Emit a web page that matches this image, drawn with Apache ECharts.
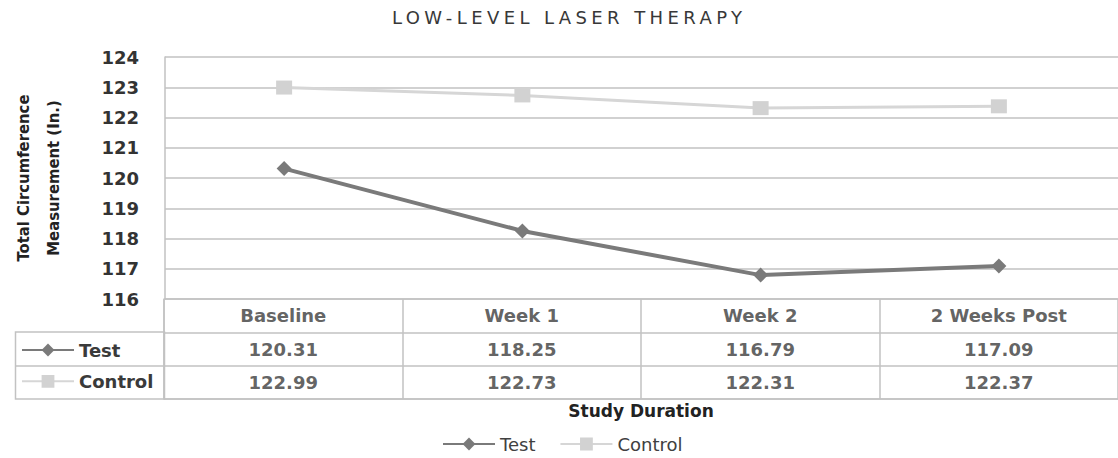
<!DOCTYPE html>
<html><head><meta charset="utf-8">
<script src="https://cdn.jsdelivr.net/npm/echarts@6/dist/echarts.min.js"></script>
<style>
html,body{margin:0;padding:0;background:#fff;}
#c{width:1118px;height:458px;}
#c text[style*="Verdana"]{letter-spacing:4.4px !important;}
</style></head><body><div id="c"></div>
<script>
// ---- data ----
const categories = ['Baseline', 'Week 1', 'Week 2', '2 Weeks Post'];
const testValues = [120.31, 118.25, 116.79, 117.09];
const controlValues = [122.99, 122.73, 122.31, 122.37];
const seriesNames = ['Test', 'Control'];
const tableRowKeys = ['header', 'Test', 'Control'];
const yMin = 116, yMax = 124, yStep = 1;
const titleText = 'LOW-LEVEL LASER THERAPY';
const yName = 'Total Circumference\nMeasurement (In.)';
const xName = 'Study Duration';

// ---- layout ----
const PLOT_LEFT = 164, PLOT_TOP = 57, PLOT_BOTTOM = 299, PLOT_W = 962;
const TABLE_TOP = 299, TABLE_H = 100, KEY_LEFT = 15;
const ROW_H = TABLE_H / 3;
const GRID_COLOR = '#c2c2c2';
const TEXT = '#3a3a3a';

const tableCells = [];
categories.forEach((c, i) => tableCells.push([i, 0, c]));
testValues.forEach((v, i) => tableCells.push([i, 1, v.toFixed(2)]));
controlValues.forEach((v, i) => tableCells.push([i, 2, v.toFixed(2)]));

const chart = echarts.init(document.getElementById('c'), null, {renderer: 'svg'});
chart.setOption({
  animation: false,
  backgroundColor: '#fff',
  title: {
    text: titleText, left: 392, top: 8, padding: 0,
    textStyle: {fontFamily: 'Verdana, "DejaVu Sans"', fontSize: 18, fontWeight: 'normal', color: '#383838'}
  },
  legend: [{
    data: seriesNames, left: 437, top: 430, itemWidth: 52, itemHeight: 16, itemGap: 24,
    selectedMode: false,
    textStyle: {fontFamily: 'DejaVu Sans', fontSize: 18, color: '#404040'}
  }, {
    data: seriesNames, orient: 'vertical', left: 21, top: TABLE_TOP + ROW_H + ROW_H / 2 - 8,
    itemWidth: 52, itemHeight: 16, itemGap: ROW_H - 20, selectedMode: false, padding: 0,
    textStyle: {fontFamily: 'DejaVu Sans', fontSize: 18, fontWeight: 'bold', color: TEXT}
  }],
  grid: [
    {left: PLOT_LEFT, top: PLOT_TOP, width: PLOT_W, height: PLOT_BOTTOM - PLOT_TOP},
    {left: PLOT_LEFT, top: TABLE_TOP, width: PLOT_W, height: TABLE_H}
  ],
  xAxis: [
    {type: 'category', gridIndex: 0, data: categories, boundaryGap: true, show: false},
    {type: 'category', gridIndex: 1, data: categories, boundaryGap: true, position: 'bottom',
     axisLine: {show: true, lineStyle: {color: GRID_COLOR, width: 1.5}},
     axisTick: {show: false}, axisLabel: {show: false},
     splitLine: {show: true, lineStyle: {color: GRID_COLOR, width: 1.5}},
     name: xName, nameLocation: 'middle', nameGap: 3,
     nameTextStyle: {fontFamily: 'DejaVu Sans', fontSize: 17, fontWeight: 'bold', color: '#222'}}
  ],
  yAxis: [
    {type: 'value', gridIndex: 0, min: yMin, max: yMax, interval: yStep,
     axisLine: {show: true, lineStyle: {color: GRID_COLOR, width: 1.5}},
     axisTick: {show: false},
     axisLabel: {margin: 26, fontFamily: 'DejaVu Sans', fontSize: 18, fontWeight: 'bold', color: '#333'},
     splitLine: {show: true, lineStyle: {color: GRID_COLOR, width: 1.5}},
     name: yName, nameLocation: 'middle', nameRotate: 90, nameGap: 97,
     nameTextStyle: {fontFamily: '"Liberation Sans Narrow", "DejaVu Sans Condensed", sans-serif',
       fontSize: 16.5, fontWeight: 'bold', color: '#222', lineHeight: 30}},
    {type: 'category', gridIndex: 1, data: tableRowKeys, inverse: true, boundaryGap: true,
     axisLine: {show: true, lineStyle: {color: GRID_COLOR, width: 1.5}},
     axisTick: {show: false}, axisLabel: {show: false},
     splitLine: {show: true, lineStyle: {color: GRID_COLOR, width: 1.5}}}
  ],
  graphic: [
    {type: 'rect', silent: true,
     shape: {x: KEY_LEFT + 0.5, y: Math.round(TABLE_TOP + ROW_H), width: PLOT_LEFT - KEY_LEFT, height: Math.round(2 * ROW_H)},
     style: {fill: 'none', stroke: GRID_COLOR, lineWidth: 1.5}},
    {type: 'line', silent: true,
     shape: {x1: KEY_LEFT, y1: Math.round(TABLE_TOP + 2 * ROW_H), x2: PLOT_LEFT, y2: Math.round(TABLE_TOP + 2 * ROW_H)},
     style: {stroke: GRID_COLOR, lineWidth: 1.5}}
  ],
  series: [
    {name: 'Test', type: 'line', xAxisIndex: 0, yAxisIndex: 0, data: testValues,
     symbol: 'diamond', symbolSize: 15,
     lineStyle: {color: '#7a7a7a', width: 4}, itemStyle: {color: '#7a7a7a'}},
    {name: 'Control', type: 'line', xAxisIndex: 0, yAxisIndex: 0, data: controlValues,
     symbol: 'rect', symbolSize: [16, 14],
     lineStyle: {color: '#d6d6d6', width: 3}, itemStyle: {color: '#d2d2d2'}},
    {name: 'table', type: 'scatter', xAxisIndex: 1, yAxisIndex: 1, data: tableCells,
     symbolSize: 1, itemStyle: {color: 'rgba(0,0,0,0)'}, silent: true,
     label: {show: true, position: 'inside', formatter: p => p.value[2],
       fontFamily: 'DejaVu Sans', fontSize: 18, fontWeight: 'bold', color: TEXT}}
  ]
});
</script></body></html>
